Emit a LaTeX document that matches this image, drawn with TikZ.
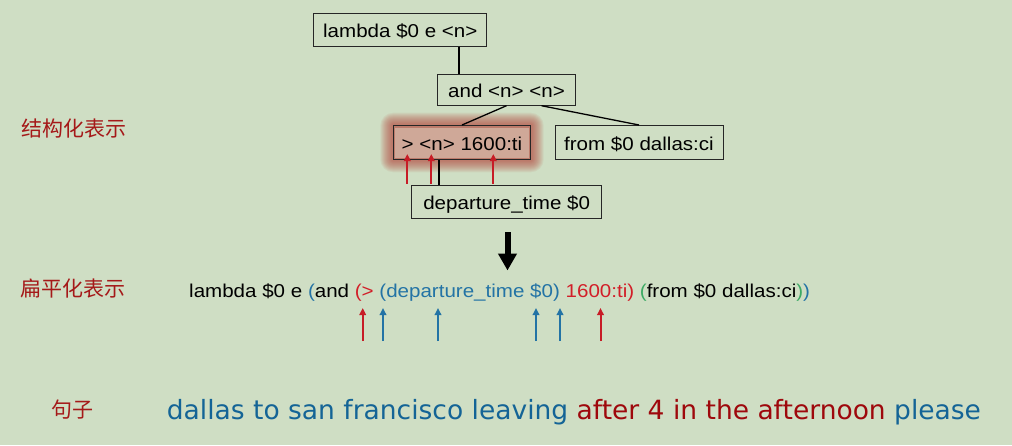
\documentclass[tikz,border=0pt]{standalone}
\usepackage{fontspec}
\usetikzlibrary{arrows.meta,calc}
\setmainfont{Liberation Sans}
\newfontfamily\boxfont[FakeStretch=1.105]{Liberation Sans}
\newfontfamily\sentfont{DejaVu Sans}
\newfontfamily\cjk{Noto Sans CJK SC}
\definecolor{bg}{RGB}{207,222,196}
\definecolor{lbl}{RGB}{165,25,25}
\definecolor{fblue}{RGB}{35,115,165}
\definecolor{fred}{RGB}{210,30,40}
\definecolor{fgreen}{RGB}{60,170,100}
\definecolor{sblue}{RGB}{20,100,150}
\definecolor{sred}{RGB}{158,8,12}
\definecolor{glow}{RGB}{180,60,50}
\definecolor{glowin}{RGB}{207,168,152}
\begin{document}
\begin{tikzpicture}[x=1pt,y=-1pt,
  tbox/.style={draw=black!85, line width=1pt, inner sep=0pt, text height=15pt, text depth=0pt,
    font=\boxfont\fontsize{18.6}{20}\selectfont},
  edge/.style={draw=black, line width=1.3pt},
  redarr/.style={draw=fred!95!black, line width=2pt, -{Triangle[length=7pt,width=6.5pt]}},
  bluearr/.style={draw=fblue, line width=2pt, -{Triangle[length=7pt,width=6.5pt]}},
  lblstyle/.style={text=lbl, inner sep=0pt, font=\cjk\fontsize{21}{22}\selectfont}]
\useasboundingbox (0,0) rectangle (1012,445);
\fill[bg] (0,0) rectangle (1012,445);

% glow behind the highlighted box
\foreach \d in {13,12,11,10,9,8,7,6,5,4,3,2}{
  \fill[glow, opacity=0.07, rounded corners=\d pt] (393.3-\d,125.7-\d) rectangle (530.7+\d,159.3+\d);
}
\fill[glowin] (395,127.5) rectangle (529,157.5);

% tree nodes
\node[tbox, minimum width=173pt, minimum height=33pt] (lam) at (400.3,29.7) {lambda \$0 e <n>};
\node[tbox, minimum width=138pt, minimum height=31pt] (and) at (506.5,89.7) {and <n> <n>};
\node[tbox, minimum width=137pt, minimum height=34pt] (gt) at (462,142.5) {> <n> 1600:ti};
\node[tbox, minimum width=168pt, minimum height=34pt] (from) at (639,142.5) {from \$0 dallas:ci};
\node[tbox, minimum width=190pt, minimum height=33pt] (dep) at (506.7,201.8) {departure\_time \$0};

% tree edges
\draw[edge] ([xshift=58.7pt]lam.south) -- ([xshift=-47.5pt]and.north);
\draw[edge] (and.south) -- (gt.north);
\draw[edge] ([xshift=35pt]and.south) -- (from.north);
\draw[edge] ([xshift=-23pt]gt.south) -- ([xshift=-67.7pt]dep.north);

% red arrows into the highlighted box
\draw[redarr] ([xshift=-99.4pt,yshift=1pt]dep.north) -- ([xshift=-54.7pt,yshift=6pt]gt.south);
\draw[redarr] ([xshift=-75.4pt,yshift=1pt]dep.north) -- ([xshift=-30.7pt,yshift=6pt]gt.south);
\draw[redarr] ([xshift=-13.4pt,yshift=1pt]dep.north) -- ([xshift=31.3pt,yshift=6pt]gt.south);

% big arrow
\coordinate (bigtop) at (507.5,232);
\coordinate (bigtip) at (507.5,270.5);
\draw[line width=6pt, -{Triangle[length=17pt,width=18pt]}] (bigtop) -- (bigtip);

% flattened representation
\node[anchor=base west, inner sep=0pt, font=\boxfont\fontsize{18.6}{20}\selectfont] (flat) at (189,297.3)
{lambda \$0 e \textcolor{fblue}{(}and \textcolor{fred}{(>} \textcolor{fblue}{(departure\_time \$0)} \textcolor{fred}{1600:ti)} \textcolor{fgreen}{(}from \$0 dallas:ci\textcolor{fgreen}{)}\textcolor{fblue}{)}};

% arrows under the flat form
\foreach \x/\s [count=\i] in {362.7/redarr,383/bluearr,438/bluearr,536/bluearr,560/bluearr,600.5/redarr}{
  \coordinate (ab\i) at (\x,341);
  \coordinate (at\i) at (\x,308);
  \draw[\s] (ab\i) -- (at\i);
}

% row labels
\node[lblstyle] (l1) at (74,129) {结构化表示};
\node[lblstyle] (l2) at (72.5,289) {扁平化表示};
\node[lblstyle] (l3) at (72,410) {句子};

% sentence
\node[anchor=base west, inner sep=0pt, font=\sentfont\fontsize{26.5}{28}\selectfont] (sent) at (166.7,419.3)
{\textcolor{sblue}{dallas to san francisco leaving} \textcolor{sred}{after 4 in the afternoon} \textcolor{sblue}{please}};
\end{tikzpicture}
\end{document}
